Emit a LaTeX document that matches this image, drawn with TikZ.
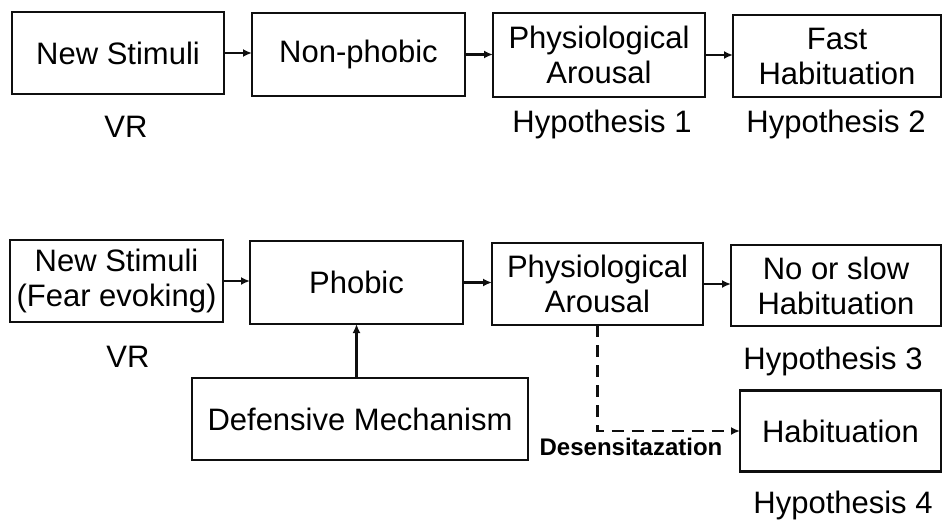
\documentclass[tikz,border=0pt]{standalone}
\usepackage{fontspec}
\setmainfont{Liberation Sans}
\usepackage{tikz}
\usetikzlibrary{arrows.meta, positioning, calc}
\definecolor{mydark}{RGB}{15,15,15}
\tikzset{
  box/.style={rectangle, draw=mydark, fill=white, align=center,
    inner sep=0pt, outer sep=0pt, line width=2.2pt,
    font=\fontsize{31}{35}\selectfont},
  lbl/.style={anchor=base, inner sep=0pt, font=\fontsize{31}{35}\selectfont},
  smalllbl/.style={anchor=base, inner sep=0pt, font=\fontsize{24}{28}\selectfont\bfseries},
  arrow/.style={-{Latex[length=9pt, width=8pt]}, line width=2.2pt, color=mydark},
  dasharrow/.style={-{Latex[length=9pt, width=8pt]}, line width=2.2pt, color=mydark,
    dash pattern=on 12pt off 8pt}
}

\begin{document}
\begin{tikzpicture}[x=1pt, y=-1pt]
  \useasboundingbox (0,0) rectangle (944,519);
  % ── top row: non-phobic ───────────────────────────────────────────────
  \node[box, minimum width=212pt, minimum height=82pt] (ns1) at (118,53) {New Stimuli};
  \node[box, minimum width=213pt, minimum height=83pt] (np) at (358.5,54.5) {Non-phobic};
  \node[box, minimum width=212pt, minimum height=84pt] (pa1) at (599,55) {Physiological\\Arousal};
  \node[box, minimum width=208pt, minimum height=82pt] (fh) at (837,56) {Fast\\Habituation};
  \draw[arrow] (ns1.east) -- (ns1.east -| np.west);
  \draw[arrow] (np.east) -- (np.east -| pa1.west);
  \draw[arrow] (pa1.east) -- (pa1.east -| fh.west);
  % Labels under the boxes
  \node[lbl] (vr1) at (126,137) {VR};
  \node[lbl] (hyp1) at (602,132) {Hypothesis 1};
  \node[lbl] (hyp2) at (836,132) {Hypothesis 2};

  % ── bottom row: phobic ────────────────────────────────────────────────
  \node[box, minimum width=213pt, minimum height=82pt] (ns2) at (116.5,281) {New Stimuli\\(Fear evoking)};
  \node[box, minimum width=213pt, minimum height=83pt] (ph) at (356.5,282.5) {Phobic};
  \node[box, minimum width=211pt, minimum height=82pt] (pa2) at (597.5,284) {Physiological\\Arousal};
  \node[box, minimum width=210pt, minimum height=81pt] (nsh) at (836,285.5) {No or slow\\Habituation};
  \node[box, minimum width=336pt, minimum height=82pt] (dm) at (360,419) {Defensive Mechanism};
  \node[box, minimum width=201pt, minimum height=81pt] (hab) at (840.5,431) {Habituation};
  \draw[arrow] (ns2.east) -- (ns2.east -| ph.west);
  \draw[arrow] (ph.east) -- (ph.east -| pa2.west);
  \draw[arrow] (pa2.east) -- (pa2.east -| nsh.west);
  \draw[arrow] (ph.south |- dm.north) -- (ph.south);
  % Desensitisation path
  \draw[dasharrow] (pa2.south) |- (hab.west);
  \node[smalllbl] (des) at (631,455) {Desensitazation};
  % Labels under the boxes
  \node[lbl] (vr2) at (128,367) {VR};
  \node[lbl] (hyp3) at (833,369) {Hypothesis 3};
  \node[lbl] (hyp4) at (843,513) {Hypothesis 4};
\end{tikzpicture}
\end{document}
